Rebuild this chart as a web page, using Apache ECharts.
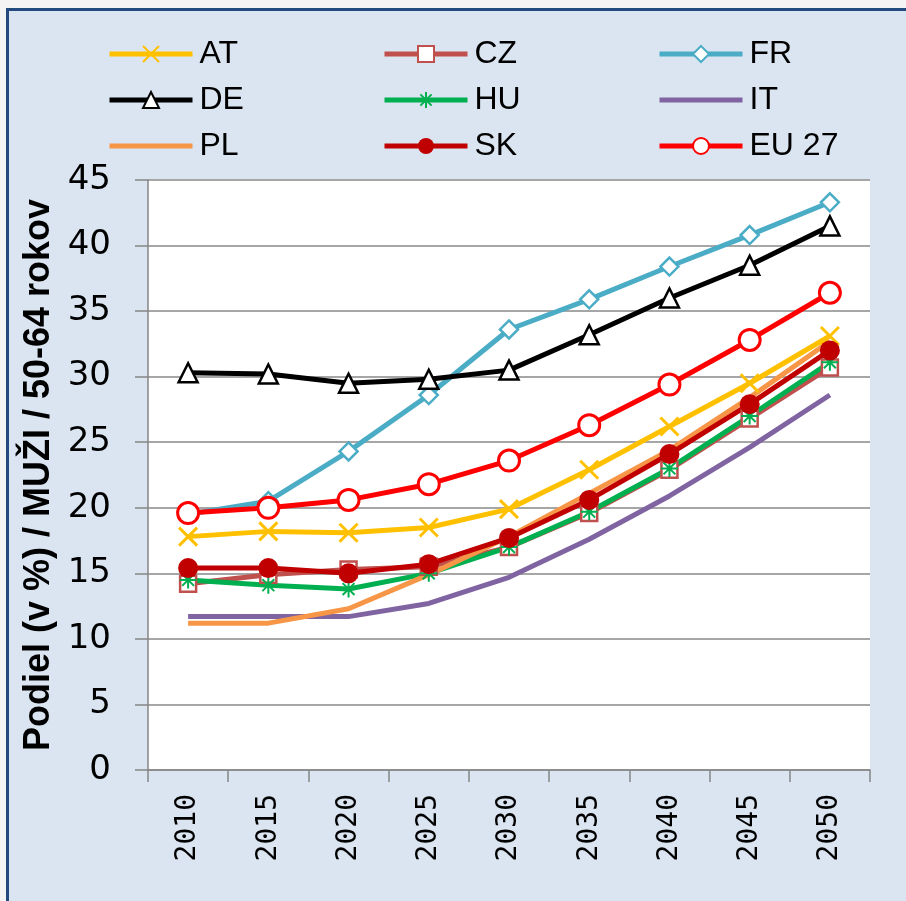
<!DOCTYPE html>
<html>
<head>
<meta charset="utf-8">
<script src="https://cdn.jsdelivr.net/npm/echarts@6/dist/echarts.min.js"></script>
<style>
    html, body { margin: 0; padding: 0; background: #f4f4f4; overflow: hidden; }
    #frame { position: absolute; left: 6px; top: 8px; width: 920px; height: 920px; border: 3px solid #234a7e; background: #dbe5f1; }
    #chart { position: absolute; left: 0; top: 0; width: 906px; height: 901px; }
</style>
</head>
<body>
<div id="frame"></div>
<div id="chart"></div>
<script>
const years = ['2010', '2015', '2020', '2025', '2030', '2035', '2040', '2045', '2050']
const yTicks = [0, 5, 10, 15, 20, 25, 30, 35, 40, 45]

const at = [17.8, 18.2, 18.1, 18.5, 19.9, 22.9, 26.2, 29.5, 33.1]
const cz = [14.2, 14.9, 15.3, 15.5, 17.0, 19.6, 22.9, 26.8, 30.7]
const fr = [19.5, 20.5, 24.3, 28.6, 33.6, 35.9, 38.4, 40.8, 43.3]
const de = [30.3, 30.2, 29.5, 29.8, 30.5, 33.2, 36.0, 38.5, 41.5]
const hu = [14.5, 14.1, 13.8, 15.0, 17.0, 19.7, 23.0, 27.0, 31.1]
const it = [11.7, 11.7, 11.7, 12.7, 14.7, 17.6, 20.9, 24.6, 28.6]
const pl = [11.2, 11.2, 12.3, 14.9, 17.8, 21.1, 24.4, 28.4, 32.7]
const sk = [15.4, 15.4, 15.0, 15.7, 17.7, 20.6, 24.1, 27.9, 32.0]
const eu27 = [19.6, 20.0, 20.6, 21.8, 23.6, 26.3, 29.4, 32.8, 36.4]

const crossPath = 'path://M0,0L10,10M10,0L0,10'
const starPath = 'path://M5,0L5,10M0,5L10,5M1.5,1.5L8.5,8.5M8.5,1.5L1.5,8.5'

const line = (name, data, color, symbol, size, fill, border) => ({
    name: name,
    type: 'line',
    data: data,
    symbol: symbol,
    symbolSize: size,
    showSymbol: symbol !== 'none',
    lineStyle: {color: color, width: 5},
    itemStyle: {color: fill, borderColor: color, borderWidth: border},
    emphasis: {disabled: true},
    z: 2
})

const series = [
    line('AT', at, '#ffc000', crossPath, 18, '#ffc000', 3),
    line('CZ', cz, '#c0504d', 'rect', 16, '#ffffff', 2.5),
    line('FR', fr, '#4bacc6', 'diamond', 18, '#ffffff', 2.5),
    line('DE', de, '#000000', 'triangle', 19, '#ffffff', 2.5),
    line('HU', hu, '#00b050', starPath, 17, '#00b050', 2),
    line('IT', it, '#8064a2', 'none', 0, '#8064a2', 0),
    line('PL', pl, '#f79646', 'none', 0, '#f79646', 0),
    line('SK', sk, '#c00000', 'circle', 20, '#c00000', 0),
    line('EU 27', eu27, '#ff0000', 'circle', 21, '#ffffff', 3)
]

// IT and PL have no marker, so their legend icon is only the line
const legendItem = name => (name === 'IT' || name === 'PL') ? {name: name, itemStyle: {opacity: 0}} : {name: name}

const legendCol = (left, names) => ({
    orient: 'vertical',
    left: left,
    top: 38,
    padding: 0,
    itemWidth: 83,
    itemHeight: 20,
    itemGap: 14,
    selectedMode: false,
    lineStyle: {width: 5},
    data: names.map(legendItem),
    textStyle: {fontFamily: 'Liberation Sans', fontSize: 32, lineHeight: 32, color: '#000', padding: [0, 0, 0, 2]}
})

const chart = echarts.init(document.getElementById('chart'), null, {renderer: 'canvas'})
chart.setOption({
    backgroundColor: 'transparent',
    animation: false,
    legend: [
        legendCol(107, ['AT', 'DE', 'PL']),
        legendCol(382, ['CZ', 'HU', 'SK']),
        legendCol(657, ['FR', 'IT', 'EU 27'])
    ],
    grid: {
        left: 148, right: 36, top: 180, bottom: 131,
        show: true, backgroundColor: '#ffffff', borderWidth: 0
    },
    xAxis: {
        type: 'category',
        data: years,
        boundaryGap: true,
        axisLine: {lineStyle: {color: '#868686', width: 1.5}},
        axisTick: {show: true, length: 12, lineStyle: {color: '#868686', width: 1.5}},
        axisLabel: {rotate: 90, margin: 24, fontFamily: 'DejaVu Sans Mono', fontSize: 28, color: '#000'}
    },
    yAxis: {
        type: 'value',
        min: yTicks[0],
        max: yTicks[yTicks.length - 1],
        interval: 5,
        name: 'Podiel (v %) / MUŽI / 50-64 rokov',
        nameLocation: 'middle',
        nameRotate: 90,
        nameGap: 89,
        nameTextStyle: {fontFamily: 'Liberation Sans', fontWeight: 'bold', fontSize: 36, color: '#000'},
        axisLine: {show: true, lineStyle: {color: '#868686', width: 1.5}},
        axisTick: {show: true, length: 13, lineStyle: {color: '#868686', width: 1.5}},
        axisLabel: {margin: 37, fontFamily: 'DejaVu Sans', fontSize: 34, color: '#000'},
        splitLine: {lineStyle: {color: '#a6a6a6', width: 2}}
    },
    series: series
})
</script>
</body>
</html>
